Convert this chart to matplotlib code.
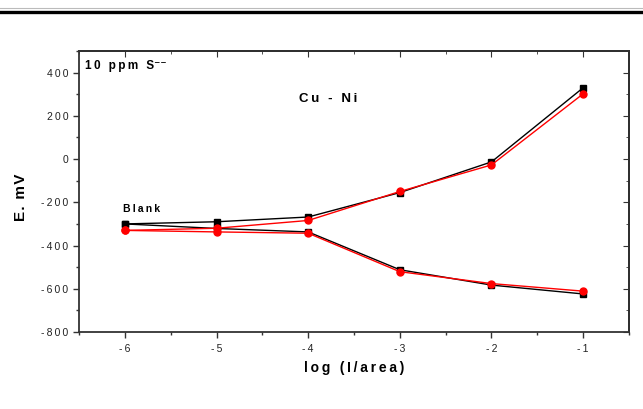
import numpy as np
import matplotlib
matplotlib.use("Agg")
import matplotlib.pyplot as plt
from matplotlib.ticker import MultipleLocator
from matplotlib.lines import Line2D

plt.rcParams["font.family"] = ["Liberation Sans", "DejaVu Sans"]

log_conc = [-6, -5, -4, -3, -2, -1]

# two branches for each electrode trace
black_upper = [-300, -290, -268, -155, -13, 330]
black_lower = [-300, -321, -337, -512, -583, -624]
red_upper = [-330, -320, -284, -150, -27, 302]
red_lower = [-330, -337, -343, -521, -576, -611]


def spaced(s, gap="\u2009"):
    # Origin-style wide letter spacing
    return gap.join(s)


fig = plt.figure(figsize=(6.43, 4.09), dpi=100)
ax = fig.add_axes([79 / 643, 1 - 332 / 409, 550 / 643, 281 / 409])

for y in (black_upper, black_lower):
    ax.plot(log_conc, y, color="black", lw=1.0, marker="s", ms=4.5, zorder=3)
for y in (red_upper, red_lower):
    ax.plot(log_conc, y, color="red", lw=1.0, marker="o", ms=5, zorder=4)

ax.set_xlim(-6.5, -0.5)
ax.set_ylim(-800, 500)
ax.xaxis.set_minor_locator(MultipleLocator(0.5))
ax.yaxis.set_minor_locator(MultipleLocator(100))
ax.set_yticks(np.arange(-800, 401, 200))
ax.set_yticklabels([spaced(str(v)) for v in range(-800, 401, 200)])
ax.set_xticks(log_conc)
ax.set_xticklabels([spaced(str(v)) for v in log_conc])

ax.tick_params(which="both", direction="out", top=False, right=False,
               labelsize=7.5, color="#333333", labelcolor="#222222")
ax.tick_params(which="major", length=4, width=1)
ax.tick_params(which="minor", length=2.5, width=1)
ax.tick_params(axis="x", pad=5)

# inward ticks on the top and right edges
sec_x = ax.secondary_xaxis("top")
sec_x.xaxis.set_major_locator(MultipleLocator(1))
sec_x.xaxis.set_minor_locator(MultipleLocator(0.5))
sec_x.tick_params(which="both", direction="in", labeltop=False, color="#333333")
sec_x.tick_params(which="major", length=4)
sec_x.tick_params(which="minor", length=2.5)
sec_y = ax.secondary_yaxis("right")
sec_y.yaxis.set_major_locator(MultipleLocator(200))
sec_y.yaxis.set_minor_locator(MultipleLocator(100))
sec_y.tick_params(which="both", direction="in", labelright=False, color="#333333")
sec_y.tick_params(which="major", length=4)
sec_y.tick_params(which="minor", length=2.5)
for sp in ax.spines.values():
    sp.set_linewidth(1.3)
    sp.set_color("#333333")
sec_x.spines["top"].set_linewidth(1.3)
sec_y.spines["right"].set_linewidth(1.3)

ax.set_xlabel(spaced("log (I/area)"), fontsize=10, fontweight="bold", labelpad=5)
ax.set_ylabel(spaced("E. mV", "\u200a"), fontsize=11, fontweight="bold")
ax.yaxis.set_label_coords(-0.093, 0.48)

ax.text(-6.43, 430, spaced("10 ppm S") + "\u207b\u207b", fontsize=8.5,
        fontweight="bold", va="center", ha="left")
ax.text(-3.78, 280, spaced("Cu - Ni"), fontsize=9.5, fontweight="bold",
        va="center", ha="center")
ax.text(-6.02, -230, spaced("Blank"), fontsize=7.5, fontweight="bold",
        va="center", ha="left")

# rule across the top of the page
fig.add_artist(Line2D([0, 1], [1 - 8 / 409] * 2, color="#bbbbbb", lw=0.8))
fig.add_artist(Line2D([0, 1], [1 - 11.5 / 409] * 2, color="black", lw=2.4))

fig.savefig("out.png", dpi=100)
